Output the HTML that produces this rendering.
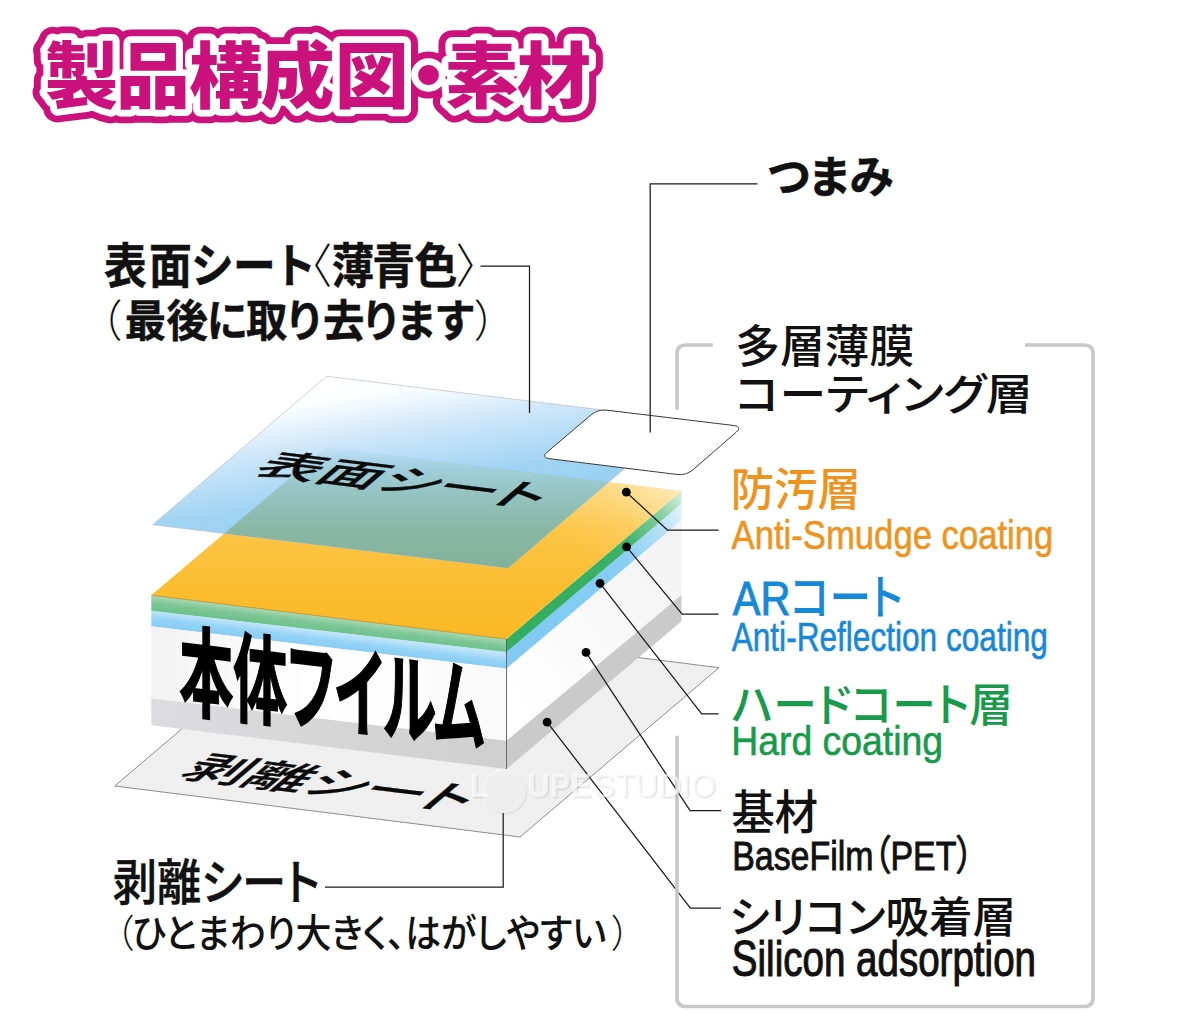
<!DOCTYPE html>
<html lang="ja">
<head>
<meta charset="utf-8">
<title>製品構成図・素材</title>
<style>
html,body{margin:0;padding:0;background:#fff;}
body{width:1200px;height:1035px;overflow:hidden;position:relative;}
svg{position:absolute;left:0;top:0;display:block;font-family:"Liberation Sans","Noto Sans CJK JP",sans-serif;}
</style>
</head>
<body>
<svg width="1200" height="1035" viewBox="0 0 1200 1035">
<defs>
  <linearGradient id="gBlue" gradientUnits="userSpaceOnUse" x1="330" y1="385" x2="360" y2="570">
    <stop offset="0" stop-color="#ffffff"/>
    <stop offset="0.08" stop-color="#fcfeff"/>
    <stop offset="0.3" stop-color="#cfe7f9"/>
    <stop offset="0.6" stop-color="#9fd3f3"/>
    <stop offset="1" stop-color="#8ccbf1"/>
  </linearGradient>
  <linearGradient id="gOver" gradientUnits="userSpaceOnUse" x1="0" y1="447" x2="0" y2="570">
    <stop offset="0" stop-color="#a9d3e6" stop-opacity="0.15"/>
    <stop offset="0.18" stop-color="#9fcdd8" stop-opacity="0.9"/>
    <stop offset="0.35" stop-color="#96c5c4"/>
    <stop offset="0.65" stop-color="#88b8a6"/>
    <stop offset="1" stop-color="#82b198"/>
  </linearGradient>
  <linearGradient id="gOrange" gradientUnits="userSpaceOnUse" x1="0" y1="485" x2="0" y2="640">
    <stop offset="0" stop-color="#fdd574"/>
    <stop offset="0.3" stop-color="#fcc546"/>
    <stop offset="0.7" stop-color="#fbbc2e"/>
    <stop offset="1" stop-color="#fbb824"/>
  </linearGradient>
  <linearGradient id="gGreenL" gradientUnits="userSpaceOnUse" x1="0" y1="0" x2="0" y2="1" gradientTransform="matrix(1,0.1236,0,15,0,576.5)">
    <stop offset="0" stop-color="#a8d9b4"/>
    <stop offset="0.5" stop-color="#7cc795"/>
    <stop offset="1" stop-color="#6dc088"/>
  </linearGradient>
  <linearGradient id="gBlueL" gradientUnits="userSpaceOnUse" x1="0" y1="0" x2="0" y2="1" gradientTransform="matrix(1,0.1236,0,16.5,0,592.1)">
    <stop offset="0" stop-color="#bfe4f9"/>
    <stop offset="0.45" stop-color="#94d3f6"/>
    <stop offset="1" stop-color="#84cbf3"/>
  </linearGradient>
  <linearGradient id="gWhiteL" gradientUnits="userSpaceOnUse" x1="150" y1="0" x2="510" y2="0">
    <stop offset="0" stop-color="#f2f2f2"/>
    <stop offset="0.45" stop-color="#ffffff"/>
    <stop offset="1" stop-color="#f9f9f9"/>
  </linearGradient>
  <linearGradient id="gGrayL" gradientUnits="userSpaceOnUse" x1="150" y1="0" x2="510" y2="0">
    <stop offset="0" stop-color="#dcdcde"/>
    <stop offset="1" stop-color="#cfcfcf"/>
  </linearGradient>
  <linearGradient id="gWhiteR" gradientUnits="userSpaceOnUse" x1="506" y1="700" x2="682" y2="560">
    <stop offset="0" stop-color="#ffffff"/>
    <stop offset="1" stop-color="#f3f3f3"/>
  </linearGradient>
  <linearGradient id="gGreenR" gradientUnits="userSpaceOnUse" x1="540" y1="617" x2="681.500" y2="497">
    <stop offset="0" stop-color="#33ad60"/>
    <stop offset="0.6" stop-color="#3db268"/>
    <stop offset="0.85" stop-color="#86cfa0"/>
    <stop offset="1" stop-color="#cfecd8"/>
  </linearGradient>
  <linearGradient id="gBlueR" gradientUnits="userSpaceOnUse" x1="540" y1="632" x2="681.500" y2="512">
    <stop offset="0" stop-color="#80caf3"/>
    <stop offset="0.6" stop-color="#88cef4"/>
    <stop offset="0.85" stop-color="#b4e0f8"/>
    <stop offset="1" stop-color="#dff2fc"/>
  </linearGradient>
  <linearGradient id="gHi" gradientUnits="userSpaceOnUse" x1="590" y1="568" x2="681.500" y2="491">
    <stop offset="0" stop-color="#ffffff" stop-opacity="0"/>
    <stop offset="0.5" stop-color="#ffffff" stop-opacity="0.12"/>
    <stop offset="1" stop-color="#ffffff" stop-opacity="0.5"/>
  </linearGradient>
  <clipPath id="cpBlue"><polygon points="326.7,376.3 682,419.6 508,568 152.700,524.700"/></clipPath>
</defs>

<!-- release sheet (bottom) -->
<polygon points="313.700,616.700 719,667.700 520,837 114.700,786" fill="#efefef" stroke="#8c8c8c" stroke-width="1"/>

<!-- main body : front-left face -->
<polygon points="151.3,595.2 506.5,639.1 506.5,652.2 151.3,611" fill="url(#gGreenL)"/>
<polygon points="151.3,610.8 506.5,652 506.5,668.7 151.3,626.5" fill="url(#gBlueL)"/>
<polygon points="151.3,626.3 506.5,668.5 506.5,741 151.3,698.7" fill="url(#gWhiteL)"/>
<polygon points="151.3,698.5 506.5,740.8 506.5,769 151.3,725.2" fill="url(#gGrayL)"/>
<!-- main body : right face -->
<polygon points="506.5,639.1 681.5,491 681.5,504 506.5,652.2" fill="url(#gGreenR)"/>
<polygon points="506.5,652 681.5,503.8 681.5,520.5 506.5,668.7" fill="url(#gBlueR)"/>
<polygon points="506.5,668.5 681.5,520.3 681.5,595.3 506.5,741" fill="url(#gWhiteR)"/>
<polygon points="506.5,740.8 681.5,595.100 681.5,621.3 506.5,769" fill="#cacaca"/>
<!-- main body : top face -->
<polygon points="326.3,447.100 681.5,491 506.5,639.100 151.3,595.2" fill="url(#gOrange)"/>
<polygon points="326.3,447.100 681.5,491 506.5,639.100 151.3,595.2" fill="url(#gHi)"/>
<line x1="506.5" y1="639.100" x2="506.5" y2="769" stroke="#5a5a5a" stroke-width="0.9"/>
<line x1="151.3" y1="595.2" x2="506.5" y2="639.100" stroke="#a8842f" stroke-width="0.7"/>

<!-- surface sheet (light blue) -->
<polygon points="326.700,376.3 682,419.600 508,568 152.700,524.700" fill="url(#gBlue)" stroke="#b9bfc4" stroke-width="0.7"/>
<polygon clip-path="url(#cpBlue)" points="326.3,447.100 681.5,491 506.5,639.100 151.3,595.2" fill="url(#gOver)"/>

<!-- tab -->
<path d="M591.1,414.9 Q598,409.100 606.9,410.200 L733.900,425.500 Q742.800,426.600 736,432.400 L692.900,469.800 Q686.100,475.600 677.200,474.500 L549.500,458.700 Q540.600,457.600 547.500,451.800 Z" fill="#ffffff" stroke="#3a3a3a" stroke-width="1"/>

<text transform="matrix(1.2069,0.1492,-0.6614,0.5641,251.29,473.35)" font-size="50" font-weight="500" fill="#0a0a0a" style="font-feature-settings:'palt'" stroke="#0a0a0a" stroke-width="0.5">表面シート</text>
<text transform="matrix(1.2078,0.1493,-0.7103,0.6059,177.40,776.75)" font-size="50" font-weight="500" fill="#0a0a0a" style="font-feature-settings:'palt'" stroke="#0a0a0a" stroke-width="0.4">剥離シート</text>
<text transform="matrix(0.5404,0.0668,0.0000,0.9797,179.23,706.66)" font-size="100" font-weight="700" fill="#000" style="font-feature-settings:'palt'" stroke="#000" stroke-width="1.6">本体フイルム</text>

<!-- leaders -->
<g fill="none" stroke="#1a1a1a" stroke-width="1.25">
  <polyline points="480.5,266 529.5,266 529.5,413"/>
  <polyline points="757.5,183.8 650.2,183.8 650.2,432.5"/>
  <polyline points="325,887 503.2,887 503.2,813"/>
  <polyline points="626.3,492.2 667.4,530 718.6,530"/>
  <polyline points="626.6,546.9 682.1,614.2 718.6,614.2"/>
  <polyline points="600,583.3 701.7,713.8 718.7,713.8"/>
  <polyline points="586,652.4 690.1,810.6 721.2,810.6"/>
  <polyline points="547.1,722.2 690.4,908.1 720.9,908.1"/>
</g>
<g fill="#000">
  <circle cx="626.3" cy="492.2" r="4.4"/>
  <circle cx="626.6" cy="546.9" r="4.4"/>
  <circle cx="600" cy="583.3" r="4.4"/>
  <circle cx="586" cy="652.4" r="4.4"/>
  <circle cx="547.1" cy="722.2" r="4.4"/>
</g>

<!-- bracket -->
<g fill="none" stroke="#c8c8c8" stroke-width="3.7">
  <path d="M712.8,345 H686 Q677,345 677,354 V409.8"/>
  <path d="M1025,345 H1084 Q1093,345 1093,354 V997.5 Q1093,1006.5 1084,1006.5 H686 Q677,1006.5 677,997.5 V735.8"/>
</g>

<!-- title -->
<g transform="translate(0,101.8) scale(1,0.965)" font-size="74" font-weight="900" stroke-linejoin="round">
  <text x="44.5 116 189 260.5 334.8 391.4 444.6 516.9" y="0" fill="#cb127c" stroke="#cb127c" stroke-width="28" aria-hidden="true">製品構成図・素材</text>
  <text x="44.5 116 189 260.5 334.8 391.4 444.6 516.9" y="0" fill="#ffffff" stroke="#ffffff" stroke-width="14" aria-hidden="true">製品構成図・素材</text>
  <text x="44.5 116 189 260.5 334.8 391.4 444.6 516.9" y="0" fill="#cb127c">製品構成図・素材</text>
</g>

<!-- labels -->
<text transform="matrix(0.9500,0,0,1.0500,0,282.60)" font-size="45" font-weight="700" fill="#111" stroke="#111" stroke-width="0.5"><tspan x="109.61">表</tspan><tspan x="156.74">面</tspan><tspan x="201.04">シ</tspan><tspan x="245.39">ー</tspan><tspan x="287.62">ト</tspan><tspan x="304.55" font-weight="300" stroke="none">〈</tspan><tspan x="349.26">薄</tspan><tspan x="391.92">青</tspan><tspan x="436.30">色</tspan><tspan x="479.66" font-weight="300" stroke="none">〉</tspan></text>
<text transform="matrix(0.9200,0,0,0.9800,0,336.50)" font-size="45" font-weight="700" fill="#111" stroke="#111" stroke-width="0.5"><tspan x="87.93" font-weight="300" stroke="none">（</tspan><tspan x="135.49">最</tspan><tspan x="180.98">後</tspan><tspan x="224.86">に</tspan><tspan x="267.38">取</tspan><tspan x="308.73">り</tspan><tspan x="351.18">去</tspan><tspan x="391.99">り</tspan><tspan x="430.16">ま</tspan><tspan x="472.05">す</tspan><tspan x="515.00" font-weight="300" stroke="none">）</tspan></text>
<text transform="matrix(1.0600,0,0,1.0667,767.43,192.78)" font-size="42" font-weight="700" fill="#111" style="font-feature-settings:'palt'" stroke="#111" stroke-width="0.5">つまみ</text>
<text transform="matrix(1.0175,0,0,1.0317,735.20,362.93)" font-size="44" font-weight="500" fill="#111" style="font-feature-settings:'palt'" >多層薄膜</text>
<text transform="matrix(1.0649,0,0,0.9878,735.21,410.30)" font-size="44" font-weight="500" fill="#111" style="font-feature-settings:'palt'" >コーティング層</text>
<text transform="matrix(1.0064,0,0,1.1079,112.69,899.57)" font-size="44" font-weight="500" fill="#111" style="font-feature-settings:'palt'" stroke="#111" stroke-width="0.4">剥離シート</text>
<text transform="matrix(0.9442,0,0,1.0169,0,947.35)" font-size="38" font-weight="500" fill="#111" style="font-feature-settings:'palt'" ><tspan x="122.31" font-weight="300" stroke="none">（</tspan><tspan x="139.98">ひとまわり大きく、はがしやすい</tspan><tspan x="648.32" font-weight="300" stroke="none">）</tspan></text>
<text transform="matrix(0.9853,0,0,1.0494,731.52,829.33)" font-size="44" font-weight="500" fill="#111" style="font-feature-settings:'palt'" >基材</text>
<text transform="matrix(0.8480,0,0,1.0300,732.17,869.80)" font-size="40" font-weight="400" fill="#111" style="font-feature-settings:'palt'" stroke="#111" stroke-width="0.9">BaseFilm（PET）</text>
<text transform="matrix(0.9906,0,0,0.9854,729.29,932.50)" font-size="44" font-weight="500" fill="#111" style="font-feature-settings:'palt'" >シリコン吸着層</text>
<text transform="matrix(0.9637,0,0,1.2400,731.80,976.20)" font-size="40" font-weight="400" fill="#111" style="font-feature-settings:'palt'" stroke="#111" stroke-width="0.9">Silicon adsorption</text>
<text transform="matrix(0.9859,0,0,1.0244,730.85,506.36)" font-size="44" font-weight="500" fill="#ee941e" style="font-feature-settings:'palt'" >防汚層</text>
<text transform="matrix(0.8668,0,0,1.0300,731.57,548.80)" font-size="40" font-weight="400" fill="#ee941e" style="font-feature-settings:'palt'" stroke="#ee941e" stroke-width="0.6">Anti-Smudge coating</text>
<text transform="matrix(0.9437,0,0,1.0993,732.74,614.95)" font-size="44" font-weight="500" fill="#1588d7" style="font-feature-settings:'palt'" ><tspan stroke="#1588d7" stroke-width="0.9">AR</tspan>コート</text>
<text transform="matrix(0.7902,0,0,1.0300,731.70,651.40)" font-size="40" font-weight="400" fill="#1588d7" style="font-feature-settings:'palt'" stroke="#1588d7" stroke-width="0.6">Anti-Reflection coating</text>
<text transform="matrix(0.9933,0,0,1.0426,731.51,721.19)" font-size="44" font-weight="500" fill="#179b4a" style="font-feature-settings:'palt'" >ハードコート層</text>
<text transform="matrix(0.9345,0,0,1.0300,731.20,755.00)" font-size="40" font-weight="400" fill="#179b4a" style="font-feature-settings:'palt'" stroke="#179b4a" stroke-width="0.6">Hard coating</text>

<!-- watermark -->
<filter id="wsh" x="-5%" y="-20%" width="110%" height="140%"><feDropShadow dx="1.3" dy="1.3" stdDeviation="0.35" flood-color="#8c8c8c" flood-opacity="0.42"/></filter>
<g font-size="33" fill="#ffffff" fill-opacity="0.62" filter="url(#wsh)">
  <circle cx="504" cy="791" r="22" fill-opacity="0.4"/>
  <text x="469.5" y="796.6" font-weight="700">L</text>
  <text x="527.5" y="796.6" font-weight="700" textLength="63.5" lengthAdjust="spacingAndGlyphs">UPE</text>
  <text x="593.5" y="796.6" font-weight="400" textLength="122.5" lengthAdjust="spacingAndGlyphs">STUDIO</text>
</g>
</svg>
</body>
</html>
